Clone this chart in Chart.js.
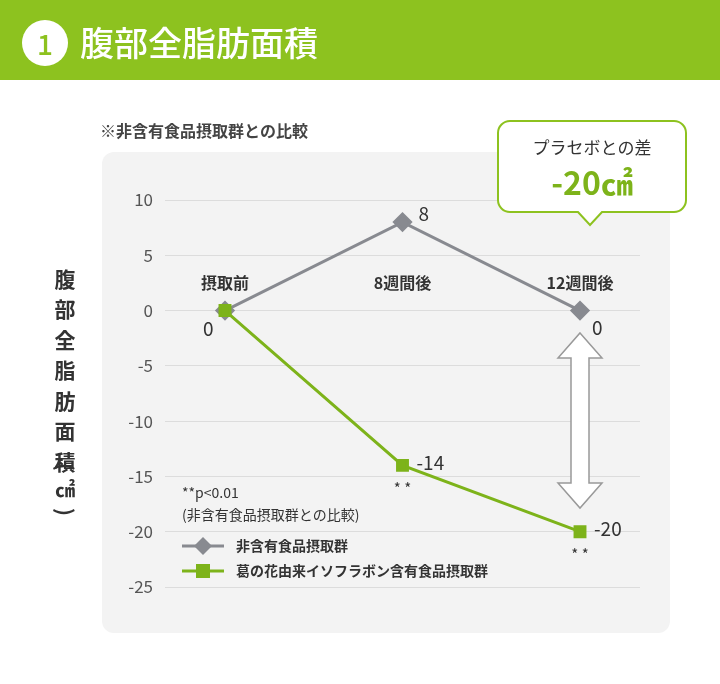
<!DOCTYPE html>
<html><head><meta charset="utf-8">
<script src="https://cdn.jsdelivr.net/npm/chart.js@4/dist/chart.umd.min.js"></script>
<style>body{margin:0;background:#fff}#wrap{width:720px;height:684px;position:relative}</style>
</head><body><div id="wrap"><canvas id="c" width="720" height="684"></canvas></div>
<script>
const categories = ["摂取前", "8週間後", "12週間後"];
const placebo = [0, 8, 0];
const isoflavone = [0, -14, -20];
const sigMarks = ["", "**", "**"];
const seriesNames = ["非含有食品摂取群", "葛の花由来イソフラボン含有食品摂取群"];
const yTicks = [10, 5, 0, -5, -10, -15, -20, -25];

const GREEN = "#7db31a", GRAY = "#888a90", FONT = "'Noto Sans CJK JP', 'Noto Sans', sans-serif";

function rr(ctx, x, y, w, h, r) {
  ctx.beginPath(); ctx.moveTo(x + r, y); ctx.arcTo(x + w, y, x + w, y + h, r);
  ctx.arcTo(x + w, y + h, x, y + h, r); ctx.arcTo(x, y + h, x, y, r); ctx.arcTo(x, y, x + w, y, r); ctx.closePath();
}

const bg = {
  id: "bg",
  beforeDraw(chart) {
    const ctx = chart.ctx;
    ctx.save();
    ctx.fillStyle = "#fff"; ctx.fillRect(0, 0, 720, 684);
    ctx.fillStyle = "#8dc21f"; ctx.fillRect(0, 0, 720, 80);
    ctx.fillStyle = "#fff"; ctx.beginPath(); ctx.arc(45, 43, 23, 0, Math.PI * 2); ctx.fill();
    ctx.fillStyle = "#8dc21f"; ctx.font = "500 28px " + FONT; ctx.textAlign = "center"; ctx.textBaseline = "middle";
    ctx.fillText("1", 45, 44);
    ctx.fillStyle = "#fff"; ctx.font = "500 34px " + FONT; ctx.textAlign = "left";
    ctx.fillText("腹部全脂肪面積", 80, 43);
    ctx.fillStyle = "#444"; ctx.font = "bold 16px " + FONT;
    ctx.fillText("※非含有食品摂取群との比較", 100, 131);
    ctx.fillStyle = "#f3f3f3"; rr(ctx, 102, 152, 568, 481, 12); ctx.fill();
    // vertical axis title
    ctx.fillStyle = "#333"; ctx.font = "bold 21px " + FONT; ctx.textAlign = "center";
    const t = "腹部全脂肪面積";
    for (let i = 0; i < t.length; i++) ctx.fillText(t[i], 65, 279 + i * 30.5);
    ctx.save(); ctx.translate(65, 467); ctx.rotate(Math.PI / 2); ctx.fillText("(", 0, 0); ctx.restore();
    ctx.font = "bold 20px " + FONT; ctx.fillText("㎠", 65, 489);
    ctx.save(); ctx.translate(65, 512); ctx.rotate(Math.PI / 2); ctx.font = "bold 21px " + FONT; ctx.fillText(")", 0, 0); ctx.restore();
    ctx.restore();
  },
  afterDatasetsDraw(chart) {
    const ctx = chart.ctx, xs = chart.scales.x, ys = chart.scales.y;
    ctx.save();
    ctx.fillStyle = "#333"; ctx.font = "bold 16px " + FONT; ctx.textAlign = "center"; ctx.textBaseline = "middle";
    categories.forEach((c, i) => ctx.fillText(c, xs.getPixelForValue(i), 283));
    ctx.font = "19px " + FONT; ctx.textAlign = "left";
    ctx.fillText(String(placebo[1]), xs.getPixelForValue(1) + 16, ys.getPixelForValue(placebo[1]) - 8);
    ctx.fillText(String(placebo[2]), xs.getPixelForValue(2) + 12, ys.getPixelForValue(placebo[2]) + 17);
    ctx.fillText(String(isoflavone[0]), xs.getPixelForValue(0) - 22, ys.getPixelForValue(isoflavone[0]) + 18);
    for (let i = 1; i < 3; i++) ctx.fillText(String(isoflavone[i]), xs.getPixelForValue(i) + 14, ys.getPixelForValue(isoflavone[i]) - 3);
    ctx.font = "15px " + FONT; ctx.textAlign = "center";
    sigMarks.forEach((s, i) => { if (s) ctx.fillText(s.split("").join(" "), xs.getPixelForValue(i), ys.getPixelForValue(isoflavone[i]) + 23); });
    // double arrow
    const ax = xs.getPixelForValue(2), top = 333, bot = 508;
    ctx.beginPath();
    ctx.moveTo(ax, top); ctx.lineTo(ax + 22, top + 25); ctx.lineTo(ax + 9, top + 25); ctx.lineTo(ax + 9, bot - 25);
    ctx.lineTo(ax + 22, bot - 25); ctx.lineTo(ax, bot); ctx.lineTo(ax - 22, bot - 25); ctx.lineTo(ax - 9, bot - 25);
    ctx.lineTo(ax - 9, top + 25); ctx.lineTo(ax - 22, top + 25); ctx.closePath();
    ctx.fillStyle = "#fff"; ctx.fill(); ctx.strokeStyle = "#999"; ctx.lineWidth = 1.5; ctx.stroke();
    // note + legend
    ctx.fillStyle = "#333"; ctx.textAlign = "left"; ctx.font = "14px " + FONT;
    ctx.fillText("**p<0.01", 182, 493);
    ctx.fillText("(非含有食品摂取群との比較)", 182, 515);
    const lg = [[GRAY, "d"], [GREEN, "s"]];
    lg.forEach((l, i) => {
      const y = 546 + i * 25;
      ctx.strokeStyle = l[0]; ctx.lineWidth = 3; ctx.beginPath(); ctx.moveTo(182, y); ctx.lineTo(224, y); ctx.stroke();
      ctx.fillStyle = l[0];
      if (l[1] === "d") { ctx.beginPath(); ctx.moveTo(203, y - 9); ctx.lineTo(212, y); ctx.lineTo(203, y + 9); ctx.lineTo(194, y); ctx.fill(); }
      else ctx.fillRect(196, y - 7, 14, 14);
      ctx.fillStyle = "#333"; ctx.font = "bold 14px " + FONT; ctx.fillText(seriesNames[i], 236, y);
    });
    // callout
    ctx.beginPath();
    ctx.moveTo(510, 121); ctx.lineTo(674, 121); ctx.arcTo(686, 121, 686, 133, 12); ctx.lineTo(686, 200);
    ctx.arcTo(686, 212, 674, 212, 12); ctx.lineTo(602, 212); ctx.lineTo(590, 225); ctx.lineTo(578, 212);
    ctx.lineTo(510, 212); ctx.arcTo(498, 212, 498, 200, 12); ctx.lineTo(498, 133); ctx.arcTo(498, 121, 510, 121, 12); ctx.closePath();
    ctx.fillStyle = "#fff"; ctx.fill(); ctx.strokeStyle = "#8dc21f"; ctx.lineWidth = 2; ctx.stroke();
    ctx.fillStyle = "#333"; ctx.font = "17px " + FONT; ctx.textAlign = "center";
    ctx.fillText("プラセボとの差", 592, 148);
    ctx.fillStyle = GREEN; ctx.font = "bold 32px " + FONT;
    ctx.fillText("-20㎠", 592, 183);
    ctx.restore();
  }
};

new Chart(document.getElementById("c"), {
  type: "line",
  data: {
    datasets: [
      { data: placebo.map((v, i) => ({ x: i, y: v })), borderColor: GRAY, backgroundColor: GRAY, borderWidth: 3,
        pointStyle: "rectRot", pointRadius: 8, tension: 0, order: 2 },
      { data: isoflavone.map((v, i) => ({ x: i, y: v })), borderColor: GREEN, backgroundColor: GREEN, borderWidth: 3,
        pointStyle: "rect", pointRadius: 7, tension: 0, order: 1 }
    ]
  },
  options: {
    responsive: false, animation: false,
    layout: { padding: { left: 95, right: 80, top: 200, bottom: 97 } },
    plugins: { legend: { display: false }, tooltip: { enabled: false } },
    scales: {
      x: { type: "linear", display: false, min: -0.338, max: 2.338 },
      y: {
        min: -25, max: 10, afterFit(s) { s.width = 70; },
        afterBuildTicks(s) { s.ticks = yTicks.map(v => ({ value: v })); },
        border: { display: false }, grid: { color: "#dcdcdc", drawTicks: false },
        ticks: { color: "#555", font: { size: 17, family: FONT }, padding: 12 }
      }
    }
  },
  plugins: [bg]
});
</script></body></html>
